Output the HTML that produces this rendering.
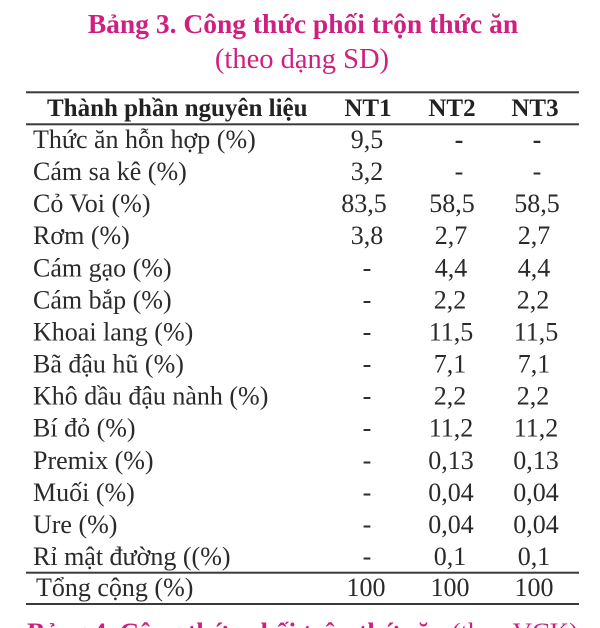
<!DOCTYPE html>
<html>
<head>
<meta charset="utf-8">
<style>
  html,body{margin:0;padding:0;background:#ffffff;}
  body{width:600px;height:628px;overflow:hidden;}
  svg{display:block;}
  .t{font-family:"Liberation Serif","Noto Serif CJK SC",serif;}
</style>
</head>
<body>
<svg width="600" height="628" viewBox="0 0 600 628" xmlns="http://www.w3.org/2000/svg">
  <rect width="600" height="628" fill="#ffffff"/>
  <!-- Title -->
  <text class="t" x="303" y="33" text-anchor="middle" font-size="27.5" font-weight="bold" fill="#cf1f7f">Bảng 3. Công thức phối trộn thức ăn</text>
  <text class="t" x="302" y="68" text-anchor="middle" font-size="28.5" fill="#cf1f7f">(theo dạng SD)</text>

  <!-- Rules -->
  <rect x="26" y="91.3" width="553" height="2" fill="#3a3a3a"/>
  <rect x="26" y="123.3" width="553" height="2" fill="#3a3a3a"/>
  <rect x="26" y="571.7" width="553" height="2" fill="#3a3a3a"/>
  <rect x="26" y="603" width="553" height="2" fill="#3a3a3a"/>

  <!-- Header -->
  <g class="t" font-size="25" font-weight="bold" fill="#222">
    <text x="47" y="116">Thành phần nguyên liệu</text>
    <text x="368" y="116" text-anchor="middle">NT1</text>
    <text x="452" y="116" text-anchor="middle">NT2</text>
    <text x="535" y="116" text-anchor="middle">NT3</text>
  </g>

  <!-- Body -->
  <g class="t" font-size="26" fill="#2a2a2a">
    <text x="33" y="148">Thức ăn hỗn hợp (%)</text>
    <text x="367" y="148" text-anchor="middle">9,5</text>
    <text x="459" y="148" text-anchor="middle" font-weight="bold">-</text>
    <text x="537" y="148" text-anchor="middle" font-weight="bold">-</text>

    <text x="33" y="180.1">Cám sa kê (%)</text>
    <text x="367" y="180.1" text-anchor="middle">3,2</text>
    <text x="459" y="180.1" text-anchor="middle">-</text>
    <text x="537" y="180.1" text-anchor="middle">-</text>

    <text x="33" y="212.2">Cỏ Voi (%)</text>
    <text x="364" y="212.2" text-anchor="middle">83,5</text>
    <text x="452" y="212.2" text-anchor="middle">58,5</text>
    <text x="537" y="212.2" text-anchor="middle">58,5</text>

    <text x="33" y="244.2">Rơm (%)</text>
    <text x="367" y="244.2" text-anchor="middle">3,8</text>
    <text x="451" y="244.2" text-anchor="middle">2,7</text>
    <text x="534" y="244.2" text-anchor="middle">2,7</text>

    <text x="33" y="276.3">Cám gạo (%)</text>
    <text x="367" y="276.3" text-anchor="middle">-</text>
    <text x="451" y="276.3" text-anchor="middle">4,4</text>
    <text x="534" y="276.3" text-anchor="middle">4,4</text>

    <text x="33" y="308.4">Cám bắp (%)</text>
    <text x="367" y="308.4" text-anchor="middle">-</text>
    <text x="450" y="308.4" text-anchor="middle">2,2</text>
    <text x="533" y="308.4" text-anchor="middle">2,2</text>

    <text x="33" y="340.5">Khoai lang (%)</text>
    <text x="367" y="340.5" text-anchor="middle">-</text>
    <text x="451" y="340.5" text-anchor="middle">11,5</text>
    <text x="536" y="340.5" text-anchor="middle">11,5</text>

    <text x="33" y="372.6">Bã đậu hũ (%)</text>
    <text x="367" y="372.6" text-anchor="middle">-</text>
    <text x="450" y="372.6" text-anchor="middle">7,1</text>
    <text x="534" y="372.6" text-anchor="middle">7,1</text>

    <text x="33" y="404.6">Khô dầu đậu nành (%)</text>
    <text x="367" y="404.6" text-anchor="middle">-</text>
    <text x="450" y="404.6" text-anchor="middle">2,2</text>
    <text x="533" y="404.6" text-anchor="middle">2,2</text>

    <text x="33" y="436.7">Bí đỏ (%)</text>
    <text x="367" y="436.7" text-anchor="middle">-</text>
    <text x="451" y="436.7" text-anchor="middle">11,2</text>
    <text x="536" y="436.7" text-anchor="middle">11,2</text>

    <text x="33" y="468.8">Premix (%)</text>
    <text x="367" y="468.8" text-anchor="middle">-</text>
    <text x="451" y="468.8" text-anchor="middle">0,13</text>
    <text x="536" y="468.8" text-anchor="middle">0,13</text>

    <text x="33" y="500.9">Muối (%)</text>
    <text x="367" y="500.9" text-anchor="middle">-</text>
    <text x="451" y="500.9" text-anchor="middle">0,04</text>
    <text x="536" y="500.9" text-anchor="middle">0,04</text>

    <text x="33" y="533">Ure (%)</text>
    <text x="367" y="533" text-anchor="middle">-</text>
    <text x="451" y="533" text-anchor="middle">0,04</text>
    <text x="536" y="533" text-anchor="middle">0,04</text>

    <text x="33" y="565">Rỉ mật đường ((%)</text>
    <text x="367" y="565" text-anchor="middle">-</text>
    <text x="450" y="565" text-anchor="middle">0,1</text>
    <text x="534" y="565" text-anchor="middle">0,1</text>

    <text x="36" y="596">Tổng cộng (%)</text>
    <text x="366" y="596" text-anchor="middle">100</text>
    <text x="450" y="596" text-anchor="middle">100</text>
    <text x="534" y="596" text-anchor="middle">100</text>
  </g>

  <!-- Cut-off next caption -->
  <text class="t" x="27" y="641" font-size="26" font-weight="bold" fill="#cf1f7f" textLength="551" lengthAdjust="spacingAndGlyphs">Bảng 4. Công thức phối trộn thức ăn <tspan font-weight="normal">(theo VCK)</tspan></text>
</svg>
</body>
</html>
